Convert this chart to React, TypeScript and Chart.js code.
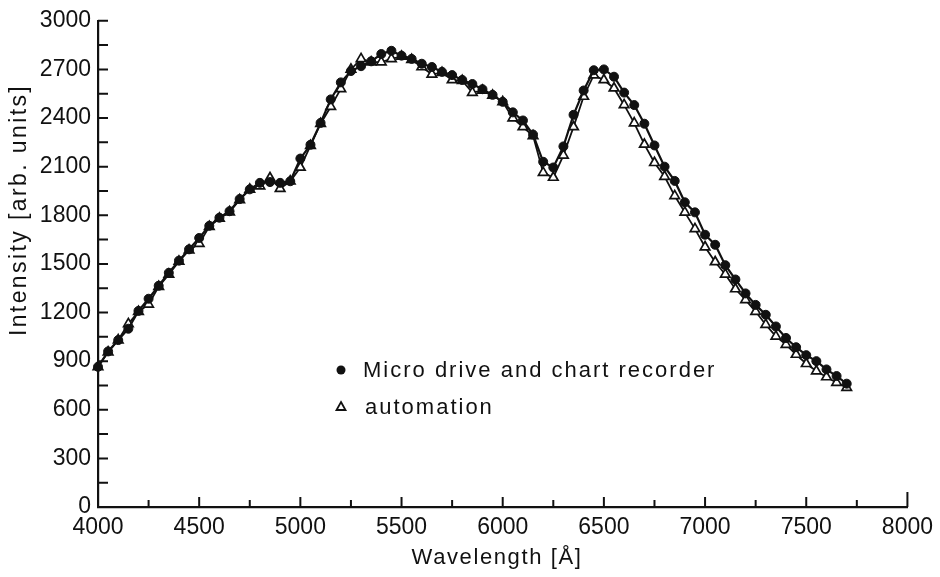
import React, { useEffect, useRef } from "react";
import { Chart, registerables } from "chart.js";

Chart.register(...registerables);

// Wavelength [Å]
const wavelengths = [
  4000, 4050, 4100, 4150, 4200, 4250, 4300, 4350, 4400, 4450,
  4500, 4550, 4600, 4650, 4700, 4750, 4800, 4850, 4900, 4950,
  5000, 5050, 5100, 5150, 5200, 5250, 5300, 5350, 5400, 5450,
  5500, 5550, 5600, 5650, 5700, 5750, 5800, 5850, 5900, 5950,
  6000, 6050, 6100, 6150, 6200, 6250, 6300, 6350, 6400, 6450,
  6500, 6550, 6600, 6650, 6700, 6750, 6800, 6850, 6900, 6950,
  7000, 7050, 7100, 7150, 7200, 7250, 7300, 7350, 7400, 7450,
  7500, 7550, 7600, 7650, 7700,
];

// Micro drive and chart recorder (filled circles)
const microDrive = [
  865, 960, 1030, 1100, 1210, 1285, 1365, 1445, 1520, 1590,
  1660, 1735, 1785, 1825, 1900, 1960, 2000, 2005, 2000, 2010,
  2150, 2235, 2370, 2515, 2620, 2690, 2720, 2750, 2795, 2815,
  2785, 2765, 2735, 2715, 2685, 2665, 2635, 2610, 2578, 2543,
  2500, 2435, 2385, 2298, 2130, 2095, 2225, 2420, 2570, 2695,
  2700, 2655, 2557, 2480, 2365, 2231, 2100, 2012, 1880, 1818,
  1680, 1618, 1492, 1404, 1318, 1247, 1186, 1114, 1043, 986,
  937, 900, 849, 808, 761,
];

// automation (open triangles)
const automation = [
  865, 955, 1030, 1130, 1205, 1250, 1360, 1435, 1515, 1585,
  1625, 1730, 1780, 1820, 1895, 1960, 1980, 2030, 1965, 2010,
  2095, 2230, 2365, 2470, 2580, 2700, 2765, 2745, 2745, 2765,
  2780, 2760, 2715, 2670, 2680, 2635, 2630, 2557, 2570, 2540,
  2500, 2400, 2345, 2290, 2063, 2033, 2170, 2345, 2533, 2665,
  2635, 2584, 2481, 2369, 2237, 2124, 2039, 1920, 1818, 1716,
  1604, 1512, 1435, 1345, 1278, 1206, 1125, 1053, 1002, 941,
  884, 839, 802, 767, 737,
];

const xTickValues = [
  4000, 4250, 4500, 4750, 5000, 5250, 5500, 5750, 6000, 6250,
  6500, 6750, 7000, 7250, 7500, 7750, 8000,
];
const xTickLabels = ["4000", "4500", "5000", "5500", "6000", "6500", "7000", "7500", "8000"];
const yTickValues = [
  0, 150, 300, 450, 600, 750, 900, 1050, 1200, 1350, 1500, 1650, 1800,
  1950, 2100, 2250, 2400, 2550, 2700, 2850, 3000,
];
const yTickLabels = ["0", "300", "600", "900", "1200", "1500", "1800", "2100", "2400", "2700", "3000"];

const legendLabels = ["Micro drive and chart recorder", "automation"];
const xTitle = "Wavelength [Å]";
const yTitle = "Intensity [arb. units]";

const FONT = '"Liberation Sans", Arial, "DejaVu Sans", sans-serif';
const INK = "#111";

const decorPlugin = {
  id: "decor",
  afterDraw(chart: any) {
    const ctx = chart.ctx as CanvasRenderingContext2D;
    const xs = chart.scales.x;
    const ys = chart.scales.y;
    const { left, bottom } = chart.chartArea;
    ctx.save();
    ctx.strokeStyle = INK;
    ctx.fillStyle = INK;
    ctx.lineWidth = 2;
    ctx.beginPath();
    for (const v of yTickValues) {
      const py = ys.getPixelForValue(v);
      ctx.moveTo(left, py);
      ctx.lineTo(left + 10, py);
    }
    for (const v of xTickValues) {
      const px = xs.getPixelForValue(v);
      let len = v % 500 === 0 ? 10 : 7;
      if (v === 8000) len = 15;
      ctx.moveTo(px, bottom);
      ctx.lineTo(px, bottom - len);
    }
    ctx.stroke();

    // legend
    (ctx as any).letterSpacing = "2px";
    ctx.font = `22px ${FONT}`;
    ctx.textAlign = "left";
    ctx.textBaseline = "middle";
    ctx.beginPath();
    ctx.arc(341, 370, 4.5, 0, Math.PI * 2);
    ctx.fill();
    ctx.fillText(legendLabels[0], 363, 371);
    ctx.beginPath();
    ctx.lineWidth = 1.8;
    ctx.moveTo(341, 402);
    ctx.lineTo(345.5, 410);
    ctx.lineTo(336.5, 410);
    ctx.closePath();
    ctx.stroke();
    ctx.fillText(legendLabels[1], 365, 408);

    // axis titles
    ctx.textAlign = "center";
    (ctx as any).letterSpacing = "1.6px";
    ctx.fillText(xTitle, 497, 558);
    (ctx as any).letterSpacing = "2.4px";
    ctx.font = `23px ${FONT}`;
    ctx.translate(20, 210);
    ctx.rotate(-Math.PI / 2);
    ctx.fillText(yTitle, 0, 0);
    ctx.restore();
  },
};

export default function App() {
  const ref = useRef<HTMLCanvasElement | null>(null);
  useEffect(() => {
    if (!ref.current) return;
    const chart = new Chart(ref.current, {
      type: "line",
      data: {
        datasets: [
          {
            label: legendLabels[0],
            data: wavelengths.map((w, i) => ({ x: w, y: microDrive[i] })),
            borderColor: INK,
            borderWidth: 2.2,
            backgroundColor: INK,
            pointStyle: "circle",
            pointRadius: 4.5,
            pointBackgroundColor: INK,
            pointBorderColor: INK,
            pointBorderWidth: 1,
            tension: 0,
            clip: false,
          },
          {
            label: legendLabels[1],
            data: wavelengths.map((w, i) => ({ x: w, y: automation[i] })),
            borderColor: INK,
            borderWidth: 1.8,
            backgroundColor: "#fff",
            pointStyle: "triangle",
            pointRadius: 5.5,
            pointBackgroundColor: "#fff",
            pointBorderColor: INK,
            pointBorderWidth: 1.7,
            tension: 0,
            clip: false,
          },
        ],
      },
      options: {
        animation: false,
        responsive: true,
        maintainAspectRatio: false,
        layout: { padding: { left: 0, right: 30, top: 17, bottom: 0 } },
        plugins: { legend: { display: false }, tooltip: { enabled: false } },
        scales: {
          x: {
            type: "linear",
            min: 4000,
            max: 8000,
            grid: { display: false, drawTicks: false },
            border: { display: true, color: INK, width: 2.2 },
            ticks: {
              stepSize: 250,
              autoSkip: false,
              maxRotation: 0,
              padding: 7,
              color: INK,
              font: { family: FONT, size: 23 },
              callback: (v: any) =>
                Number(v) % 500 === 0 ? xTickLabels[(Number(v) - 4000) / 500] : "",
            },
            afterFit: (s: any) => {
              s.height = 70;
            },
          },
          y: {
            type: "linear",
            min: 0,
            max: 3000,
            grid: { display: false, drawTicks: false },
            border: { display: true, color: INK, width: 2.2 },
            ticks: {
              stepSize: 150,
              autoSkip: false,
              padding: 7,
              color: INK,
              font: { family: FONT, size: 23 },
              callback: (v: any) =>
                Number(v) % 300 === 0 ? yTickLabels[Number(v) / 300] : "",
            },
            afterFit: (s: any) => {
              s.width = 98;
            },
          },
        },
      },
      plugins: [decorPlugin],
    });
    return () => chart.destroy();
  }, []);
  return (
    <div style={{ position: "absolute", left: 0, top: 0, width: 940, height: 577, background: "#fff" }}>
      <canvas ref={ref} />
    </div>
  );
}
